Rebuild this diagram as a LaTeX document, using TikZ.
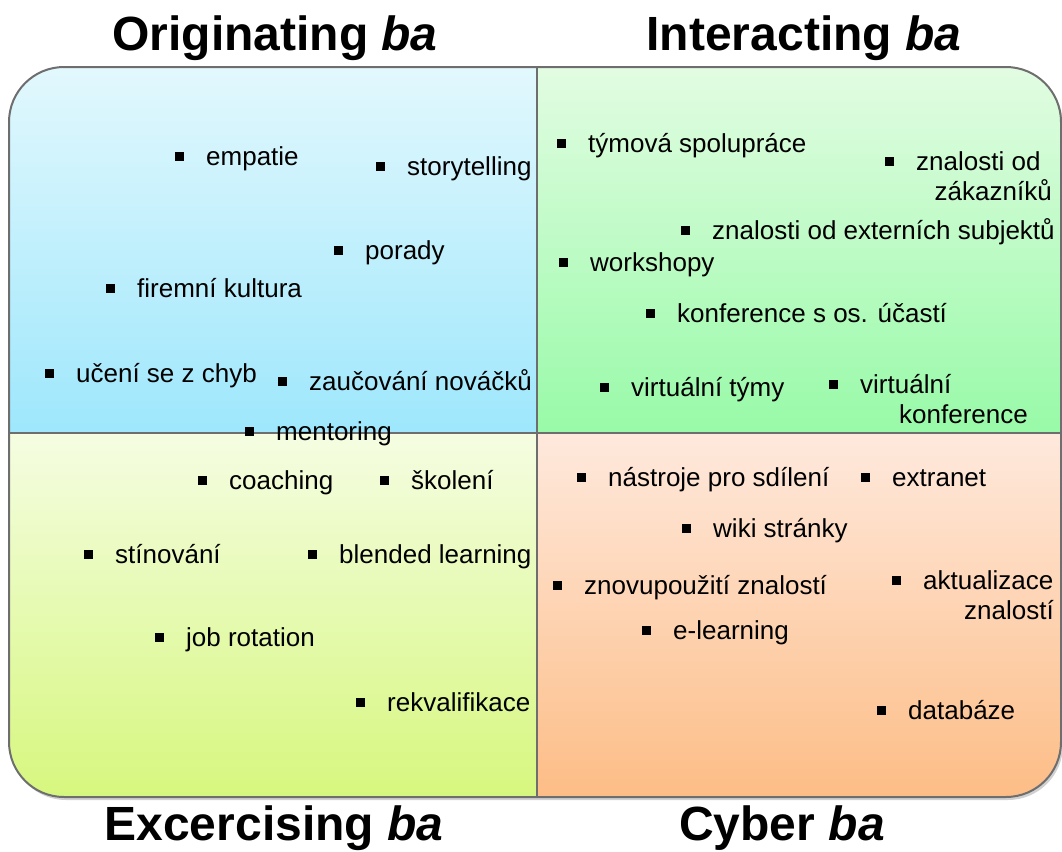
\documentclass[tikz,border=0pt]{standalone}
\usepackage{fontspec}
\setmainfont{Liberation Sans}
\usetikzlibrary{calc}

\definecolor{framegray}{HTML}{6E6E6E}
\definecolor{tlTop}{HTML}{E2F8FD}
\definecolor{tlBot}{HTML}{9EE7FC}
\definecolor{trTop}{HTML}{E2FCE2}
\definecolor{trBot}{HTML}{98FAA8}
\definecolor{blTop}{HTML}{F5FDE2}
\definecolor{blBot}{HTML}{D6F77E}
\definecolor{brTop}{HTML}{FEE9DD}
\definecolor{brBot}{HTML}{FDBD86}

% one bulleted entry: name, x, baseline y, text
\newcommand\kitem[4]{%
  \node[itemtext] (#1) at (#2,#3) {#4};
  \node[bulletsq] (#1-b) at ([xshift=-26.5bp,yshift=8.5bp]#1.base west) {};
}

\begin{document}
\begin{tikzpicture}[x=1bp,y=-1bp,
  itemtext/.style={anchor=base west, inner sep=0pt, font=\fontsize{26bp}{30bp}\selectfont},
  itemright/.style={itemtext, anchor=base east},
  bulletsq/.style={fill=black, minimum size=9.5bp, inner sep=0pt},
  heading/.style={anchor=base, inner sep=0pt, font=\fontsize{48bp}{52bp}\selectfont\bfseries},
  quadframe/.style={draw=framegray, line width=2bp}]

\useasboundingbox (0,0) rectangle (1062,852);

% soft drop shadow of the panel
\fill[black!40, opacity=0.45, rounded corners=55bp] (11,70) rectangle (1063,800);

% four shaded quadrants clipped to the rounded panel
\begin{scope}
  \clip[rounded corners=55bp] (9,67) rectangle (1061,797);
  \shade[top color=tlTop, bottom color=tlBot] (9,67) rectangle (537,433);
  \shade[top color=trTop, bottom color=trBot] (537,67) rectangle (1061,433);
  \shade[top color=blTop, bottom color=blBot] (9,433) rectangle (537,797);
  \shade[top color=brTop, bottom color=brBot] (537,433) rectangle (1061,797);
\end{scope}

\draw[quadframe] (537,67) -- (537,797);
\draw[quadframe] (9,433) -- (1061,433);
\draw[quadframe, rounded corners=55bp] (9,67) rectangle (1061,797);

% headings
\node[heading] (orig)  at (275,50)  {Originating \textit{ba}};
\node[heading] (inter) at (804,50)  {Interacting \textit{ba}};
\node[heading] (exer)  at (274,840) {Excercising \textit{ba}};
\node[heading] (cyber) at (782,840) {Cyber \textit{ba}};

% Originating ba
\kitem{empatie}{206}{165}{empatie}
\kitem{story}{407}{175}{storytelling}
\kitem{porady}{365}{259}{porady}
\kitem{kultura}{137}{297}{firemní kultura}
\kitem{chyby}{76}{382}{učení se z chyb}
\kitem{novacci}{309}{390}{zaučování nováčků}
\kitem{mentor}{276}{440}{mentoring}

% Interacting ba
\kitem{tym}{588}{152}{týmová spolupráce}
\kitem{zakaz}{916}{170}{znalosti od}
\node[itemright] (zakaz2) at (1052,200) {zákazníků};
\kitem{extern}{712}{239}{znalosti od externích subjektů}
\kitem{workshop}{590}{271}{workshopy}
\kitem{konf}{677}{322}{konference s os. účastí}
\kitem{vtym}{631}{396}{virtuální týmy}
\kitem{vkonf}{860}{393}{virtuální}
\node[itemtext] (vkonf2) at (899,423) {konference};

% Excercising ba
\kitem{coach}{229}{489}{coaching}
\kitem{skoleni}{411}{489}{školení}
\kitem{stin}{115}{563}{stínování}
\kitem{blended}{339}{563}{blended learning}
\kitem{jobrot}{186}{646}{job rotation}
\kitem{rekval}{387}{711}{rekvalifikace}

% Cyber ba
\kitem{nastroje}{608}{486}{nástroje pro sdílení}
\kitem{extranet}{892}{486}{extranet}
\kitem{wiki}{713}{537}{wiki stránky}
\kitem{reuse}{584}{594}{znovupoužití znalostí}
\kitem{aktual}{923}{589}{aktualizace}
\node[itemright] (aktual2) at (1054,619) {znalostí};
\kitem{elearn}{673}{639}{e-learning}
\kitem{db}{908}{719}{databáze}

\end{tikzpicture}
\end{document}
